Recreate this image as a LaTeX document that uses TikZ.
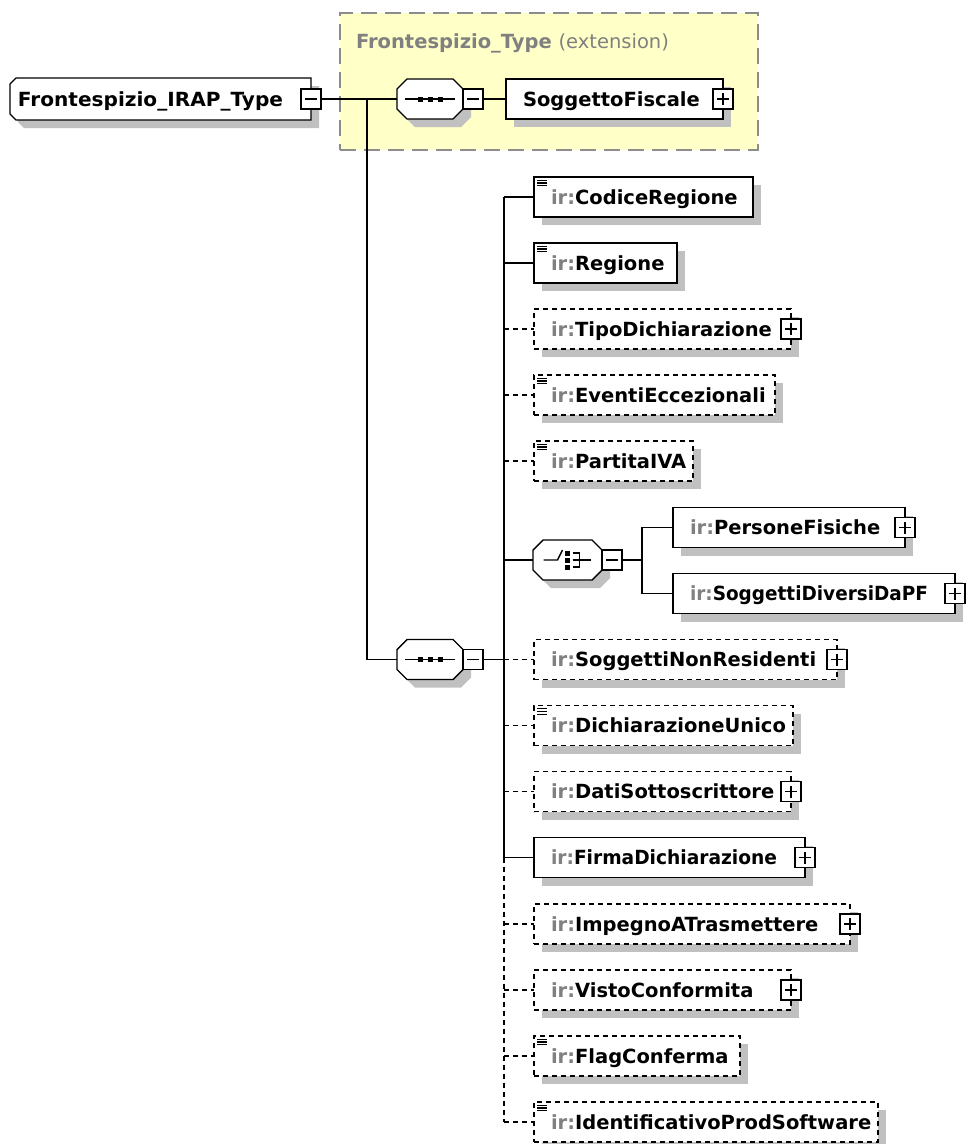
\documentclass[tikz,border=0pt]{standalone}
\usepackage{fontspec}
\setmainfont{DejaVu Sans}
\usetikzlibrary{calc}
\pgfdeclarelayer{back}
\pgfdeclarelayer{shade}
\pgfsetlayers{back,shade,main}
\definecolor{ylw}{RGB}{255,255,200}
\definecolor{shd}{RGB}{192,192,192}
\definecolor{irg}{RGB}{128,128,128}
\definecolor{extb}{RGB}{140,140,140}
\tikzset{
  holder/.style={rectangle, inner sep=0pt, outer sep=0pt},
  box/.style={rectangle, draw, fill=white, line width=1.4pt, minimum height=40pt, inner sep=0pt, outer sep=0pt, anchor=west},
  reqbox/.style={box},
  optbox/.style={box, dash pattern=on 5pt off 4pt},
  lbl/.style={inner sep=0pt, outer sep=0pt, anchor=base west, font=\fontsize{19.5}{23}\selectfont\bfseries},
  conn/.style={line width=1.4pt},
  optconn/.style={line width=1.4pt, dash pattern=on 5pt off 4pt},
  pmbox/.style={rectangle, draw, fill=white, line width=1.4pt, minimum width=20pt, minimum height=20pt, inner sep=0pt, outer sep=0pt},
  minusbox/.style={pmbox, path picture={\draw[line width=1.4pt] ([xshift=-6pt]path picture bounding box.center) -- ([xshift=6pt]path picture bounding box.center);}},
  plusbox/.style={pmbox, path picture={\draw[line width=1.4pt] ([xshift=-6pt]path picture bounding box.center) -- ([xshift=6pt]path picture bounding box.center) ([yshift=-6pt]path picture bounding box.center) -- ([yshift=6pt]path picture bounding box.center);}},
  octo/.style n args={3}{insert path={($(#1.north west)+({#2+#3},{#3})$) -- ($(#1.north east)+({-#2+#3},{#3})$) -- ($(#1.north east)+({#3},{#2+#3})$) -- ($(#1.south east)+({#3},{-#2+#3})$) -- ($(#1.south east)+({-#2+#3},{#3})$) -- ($(#1.south west)+({#2+#3},{#3})$) -- ($(#1.south west)+({#3},{-#2+#3})$) -- ($(#1.north west)+({#3},{#2+#3})$) -- cycle}},
  rootpath/.style n args={2}{insert path={($(#1.north west)+({6+#2},{#2})$) -- ($(#1.north east)+({#2},{#2})$) -- ($(#1.south east)+({#2},{#2})$) -- ($(#1.south west)+({6+#2},{#2})$) -- ($(#1.south west)+({#2},{-6+#2})$) -- ($(#1.north west)+({#2},{6+#2})$) -- cycle}},
  octline/.style={draw, fill=white, line width=1.4pt},
}
\newcommand\elm[6]{%
  \node[#5, minimum width={#3-#2}] (#1) at (#2,#4) {};
  \node[lbl] (#1t) at ({#2+17},{#4+7}) {\textcolor{irg}{ir:}#6};
  \begin{pgfonlayer}{shade}\fill[shd] ($(#1.north west)+(8,8)$) rectangle ($(#1.south east)+(8,8)$);\end{pgfonlayer}
}
\newcommand\elmw[7]{%
  \node[#5, minimum width={#3-#2}] (#1) at (#2,#4) {};
  \node[lbl] (#1t) at ({#2+17},{#4+7}) {\resizebox{#7}{\height}{\textcolor{irg}{ir:}#6}};
  \begin{pgfonlayer}{shade}\fill[shd] ($(#1.north west)+(8,8)$) rectangle ($(#1.south east)+(8,8)$);\end{pgfonlayer}
}
\newcommand\docicon[1]{\draw[line width=1.1pt] ($(#1.north west)+(3,3.3)$) -- +(10,0) ($(#1.north west)+(3,6)$) -- +(10,0) ($(#1.north west)+(3,8.7)$) -- +(10,0);}
\newcommand\plusof[1]{\node[plusbox] (#1p) at (#1.east) {};}
\begin{document}
\begin{tikzpicture}[x=1pt,y=-1pt]
\useasboundingbox (0,0) rectangle (968,1144);
% extension box
\begin{pgfonlayer}{back}
\node[rectangle, fill=ylw, draw=extb, line width=1.5pt, dash pattern=on 16pt off 8pt, minimum width=418pt, minimum height=137pt, inner sep=0pt, outer sep=0pt, anchor=north west] (ext) at (340,13) {};
\end{pgfonlayer}
\node[lbl, text=irg] (extt) at (356,48) {Frontespizio\_Type \mdseries(extension)};
% root
\node[holder, minimum width=301pt, minimum height=42pt] (root) at (160.5,99) {};
\begin{pgfonlayer}{shade}\fill[shd] [rootpath={root}{8}];\end{pgfonlayer}
\path[octline] [rootpath={root}{0}];
\node[lbl] (roott) at (18,106) {\resizebox{265pt}{\height}{Frontespizio\_IRAP\_Type}};
\node[minusbox] (rootm) at (root.east) {};
% sequence 1
\node[holder, minimum width=66pt, minimum height=40pt] (s1) at (430,99) {};
\begin{pgfonlayer}{shade}\fill[shd] [octo={s1}{10}{8}];\end{pgfonlayer}
\path[octline] [octo={s1}{10}{0}];
\draw[line width=1.4pt] ($(s1.center)+(-25,0)$) -- ($(s1.center)+(25,0)$);
\foreach \d in {-10,0,10} \fill ($(s1.center)+(\d-2.5,-2.5)$) rectangle +(5,5);
\node[minusbox, anchor=west] (s1m) at (s1.east) {};
% SoggettoFiscale
\node[reqbox, minimum width=217pt] (sf) at (506,99) {};
\begin{pgfonlayer}{shade}\fill[shd] ($(sf.north west)+(8,8)$) rectangle ($(sf.south east)+(8,8)$);\end{pgfonlayer}
\node[lbl] (sft) at (523,106) {SoggettoFiscale};
\plusof{sf}
% sequence 2
\node[holder, minimum width=66pt, minimum height=40pt] (s2) at (430,659.5) {};
\begin{pgfonlayer}{shade}\fill[shd] [octo={s2}{10}{8}];\end{pgfonlayer}
\path[octline] [octo={s2}{10}{0}];
\draw[line width=1.4pt] ($(s2.center)+(-25,0)$) -- ($(s2.center)+(25,0)$);
\foreach \d in {-10,0,10} \fill ($(s2.center)+(\d-2.5,-2.5)$) rectangle +(5,5);
\node[minusbox, anchor=west] (s2m) at (s2.east) {};
% children
\elm{e0}{534}{753}{197}{reqbox}{CodiceRegione} \docicon{e0}
\elm{e1}{534}{677}{263}{reqbox}{Regione} \docicon{e1}
\elm{e2}{534}{791}{329}{optbox}{TipoDichiarazione} \plusof{e2}
\elm{e3}{534}{775}{395}{optbox}{EventiEccezionali} \docicon{e3}
\elm{e4}{534}{693}{461}{optbox}{PartitaIVA} \docicon{e4}
\elm{pf}{673}{905}{527.5}{reqbox}{PersoneFisiche} \plusof{pf}
\elmw{sd}{673}{955}{593.5}{reqbox}{SoggettiDiversiDaPF}{238pt} \plusof{sd}
\elm{e7}{534}{837}{659.5}{optbox}{SoggettiNonResidenti} \plusof{e7}
\elm{e8}{534}{793}{725.5}{optbox}{DichiarazioneUnico} \docicon{e8}
\elm{e9}{534}{791}{791.5}{optbox}{DatiSottoscrittore} \plusof{e9}
\elmw{e10}{534}{805}{857.5}{reqbox}{FirmaDichiarazione}{226pt} \plusof{e10}
\elm{e11}{534}{850}{924}{optbox}{ImpegnoATrasmettere} \plusof{e11}
\elm{e12}{534}{791}{990}{optbox}{VistoConformita} \plusof{e12}
\elm{e13}{534}{740}{1056}{optbox}{FlagConferma} \docicon{e13}
\elm{e14}{534}{878}{1122}{optbox}{IdentificativoProdSoftware} \docicon{e14}
% choice
\node[holder, minimum width=69pt, minimum height=40pt] (ch) at (567.5,560) {};
\begin{pgfonlayer}{shade}\fill[shd] [octo={ch}{10}{8}];\end{pgfonlayer}
\path[octline] [octo={ch}{10}{0}];
\draw[line width=1.4pt] ($(ch.center)+(-24,0)$) -- ($(ch.center)+(-10,0)$) -- ($(ch.center)+(-5,-10)$);
\foreach \d in {-7,0,7} \fill ($(ch.center)+(-2.5,\d-2.5)$) rectangle +(5,5);
\draw[line width=1.4pt] ($(ch.center)+(5,-7)$) -- ($(ch.center)+(12,-7)$) -- ($(ch.center)+(12,7)$) -- ($(ch.center)+(5,7)$);
\draw[line width=1.4pt] ($(ch.center)+(5,0)$) -- ($(ch.center)+(23,0)$);
\node[minusbox, anchor=west] (chm) at (ch.east) {};
% connectors
\coordinate (j1) at (367,99);
\coordinate (vtop) at (504,197);
\coordinate (vmid) at (504,857.5);
\coordinate (vbot) at (504,1122);
\coordinate (jc) at (642,560);
\draw[conn] (rootm.east) -- (s1.west);
\draw[conn] (j1) |- (s2.west);
\draw[conn] (s1m.east) -- (sf.west);
\draw[conn] (s2m.east) -- (s2m.east -| vtop);
\draw[conn] (vtop) -- (vmid);
\draw[optconn] (vmid) -- (vbot);
\foreach \n in {e0,e1,e10,ch} \draw[conn] (\n.west -| vtop) -- (\n.west);
\foreach \n in {e2,e3,e4,e7,e8,e9,e11,e12,e13,e14} \draw[optconn] (\n.west -| vtop) -- (\n.west);
\draw[conn] (chm.east) -- (jc);
\draw[conn] (pf.west) -| (jc) |- (sd.west);
\end{tikzpicture}
\end{document}
